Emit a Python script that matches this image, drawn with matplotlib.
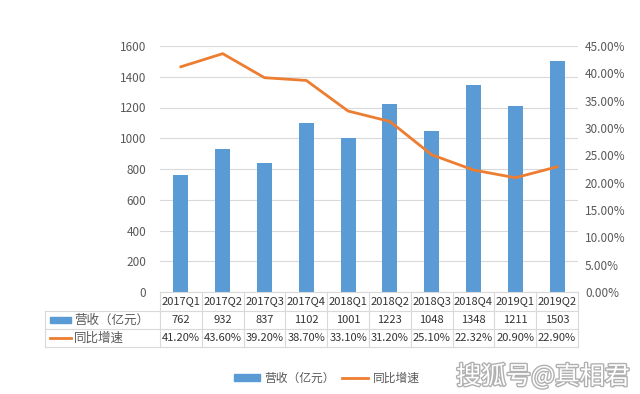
import matplotlib
matplotlib.use('Agg')
import matplotlib.pyplot as plt
import matplotlib.patheffects as pe
from matplotlib.patches import Rectangle
from matplotlib.lines import Line2D
import matplotlib.transforms as mtransforms

plt.rcParams['font.family'] = ['Noto Sans CJK SC', 'DejaVu Sans']

quarters = ['2017Q1', '2017Q2', '2017Q3', '2017Q4', '2018Q1',
            '2018Q2', '2018Q3', '2018Q4', '2019Q1', '2019Q2']
revenue = [762, 932, 837, 1102, 1001, 1223, 1048, 1348, 1211, 1503]
growth = [41.20, 43.60, 39.20, 38.70, 33.10, 31.20, 25.10, 22.32, 20.90, 22.90]
growth_labels = ['41.20%', '43.60%', '39.20%', '38.70%', '33.10%',
                 '31.20%', '25.10%', '22.32%', '20.90%', '22.90%']

bar_color = '#5B9BD5'
line_color = '#ED7D31'
grid_color = '#D9D9D9'
text_color = '#595959'

fig = plt.figure(figsize=(6.4, 3.94), dpi=100)
ax = fig.add_axes([160 / 640, 1 - 292 / 394, 418 / 640, 246 / 394])
x = list(range(len(quarters)))

ax.bar(x, revenue, width=0.36, color=bar_color, zorder=2)
ax.set_xlim(-0.5, len(quarters) - 0.5)
ax.set_ylim(0, 1600)
ax.set_yticks(range(0, 1601, 200))
ax.yaxis.grid(True, color=grid_color, linewidth=0.8, zorder=0)
ax.set_xticks([])
ax.tick_params(axis='y', length=0, labelsize=8.5, labelcolor=text_color, pad=10)
for s in ax.spines.values():
    s.set_visible(False)

ax2 = ax.twinx()
ax2.plot(x, growth, color=line_color, linewidth=2, zorder=3)
ax2.set_ylim(0, 45)
ax2.set_yticks(range(0, 46, 5))
ax2.set_yticklabels([f'{v:.2f}%' for v in range(0, 46, 5)])
ax2.tick_params(axis='y', length=0, labelsize=8.5, labelcolor=text_color, pad=5)
for s in ax2.spines.values():
    s.set_visible(False)

# data table below the plot
trans = mtransforms.blended_transform_factory(ax.transData, ax.transAxes)
px = 1 / 246  # one pixel in axes fraction (vertical)
row_edges = [0, -19 * px, -37 * px, -55 * px]
x_left = -0.5 - 115 / 41.8
lkw = dict(color=grid_color, linewidth=0.8, transform=trans, clip_on=False)

ax.plot([-0.5, 9.5], [row_edges[0]] * 2, **lkw)
for yv in row_edges[1:]:
    ax.plot([x_left, 9.5], [yv] * 2, **lkw)
for i in range(len(quarters) + 1):
    ax.plot([i - 0.5, i - 0.5], [row_edges[0], row_edges[3]], **lkw)
ax.plot([x_left, x_left], [row_edges[1], row_edges[3]], **lkw)

tkw = dict(transform=trans, ha='center', va='center', fontsize=8,
           color='#333333', clip_on=False)
for i in range(len(quarters)):
    ax.text(i, (row_edges[0] + row_edges[1]) / 2, quarters[i], **tkw)
    ax.text(i, (row_edges[1] + row_edges[2]) / 2, str(revenue[i]), **tkw)
    ax.text(i, (row_edges[2] + row_edges[3]) / 2, growth_labels[i], **tkw)

# row labels with legend keys
y1 = (row_edges[1] + row_edges[2]) / 2
y2 = (row_edges[2] + row_edges[3]) / 2
ax.add_patch(Rectangle((x_left + 0.12, y1 - 3 * px), 0.5, 6 * px, color=bar_color,
                       transform=trans, clip_on=False))
ax.plot([x_left + 0.12, x_left + 0.62], [y2, y2], color=line_color, linewidth=2,
        transform=trans, clip_on=False)
ax.text(x_left + 0.7, y1, '营收（亿元）', transform=trans, ha='left', va='center',
        fontsize=9, color=text_color, clip_on=False)
ax.text(x_left + 0.7, y2, '同比增速', transform=trans, ha='left', va='center',
        fontsize=9, color=text_color, clip_on=False)

# legend
handles = [Rectangle((0, 0), 1, 1, color=bar_color),
           Line2D([0], [0], color=line_color, linewidth=2)]
fig.legend(handles, ['营收（亿元）', '同比增速'], loc='center', ncol=2,
           bbox_to_anchor=(327 / 640, 1 - 378 / 394), frameon=False,
           fontsize=8.5, labelcolor=text_color, handlelength=2.2,
           handleheight=0.5, columnspacing=0.6, handletextpad=0.4)

# watermark
fig.text(543 / 640, 1 - 377 / 394, '搜狐号@真相君', ha='center', va='center',
         fontsize=18, color='white',
         path_effects=[pe.withStroke(linewidth=2, foreground='#b0b0b0')])

fig.savefig('out.png', dpi=100)
